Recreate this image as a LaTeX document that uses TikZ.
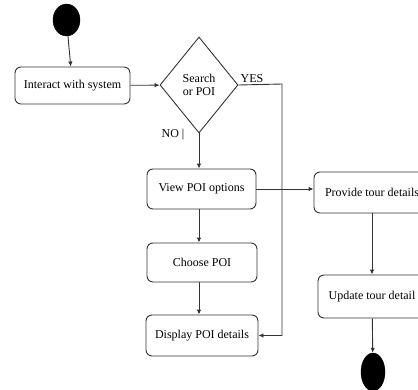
\documentclass[tikz,border=0pt]{standalone}
\usepackage{fontspec}
\setmainfont{Liberation Serif}
\usepackage{xcolor}
\usetikzlibrary{shapes.geometric,arrows.meta,calc}
\definecolor{edge}{HTML}{333333}
\tikzset{
  act/.style={draw=edge, line width=0.9pt, rounded corners=6pt, inner sep=0pt,
    align=center, font=\fontsize{12}{13.5}\selectfont},
  choice/.style={diamond, draw=edge, line width=0.9pt, inner sep=0pt,
    minimum width=78pt, minimum height=96pt, align=center,
    font=\fontsize{12}{13.5}\selectfont},
  dot/.style={ellipse, fill=black, draw=black, inner sep=0pt},
  flow/.style={draw=edge, line width=0.9pt, -{Latex[length=5pt,width=4.5pt]}},
  lab/.style={font=\fontsize{12}{13.5}\selectfont, inner sep=0pt},
}

\begin{document}
\begin{tikzpicture}[x=1pt,y=-1pt]
  \useasboundingbox (0,0) rectangle (418,389);

  \node[dot, minimum width=27pt, minimum height=32pt] (start) at (66.5,20) {};
  \node[act, minimum width=115pt, minimum height=37pt] (interact) at (72.5,85.5) {Interact with system};
  \node[choice] (search) at (199,85) {Search\\or POI};
  \node[act, minimum width=109pt, minimum height=40pt] (view) at (201.5,189) {View POI options};
  \node[act, minimum width=110pt, minimum height=39pt] (choose) at (202,262.5) {Choose POI};
  \node[act, minimum width=112pt, minimum height=41pt] (display) at (202,335.5) {Display POI details};
  \node[act, minimum width=116pt, minimum height=41pt] (provide) at (372,192.5) {Provide tour details};
  \node[act, minimum width=108pt, minimum height=43pt] (update) at (372,296.5) {Update tour detail};
  \node[dot, minimum width=24pt, minimum height=38pt] (stop) at (373,372) {};

  \coordinate (yes) at (282,84);

  \draw[flow] (start) -- (interact);
  \draw[flow] (interact) -- (search);
  \draw[flow] (search.south) -- (view.north -| search.south);
  \draw[flow] (search.east) -- (yes) |- (display.east);
  \draw[flow] (view.east) -- (view.east -| provide.west);
  \draw[flow] (view.south -| search.south) -- (choose.north -| search.south);
  \draw[flow] (choose.south -| search.south) -- (display.north -| search.south);
  \draw[flow] (provide) -- (update);
  \draw[flow] (update) -- (stop);

  \node[lab] (yeslab) at (252,79) {YES};
  \node[lab] (nolab) at (173,135) {NO |};
\end{tikzpicture}
\end{document}
